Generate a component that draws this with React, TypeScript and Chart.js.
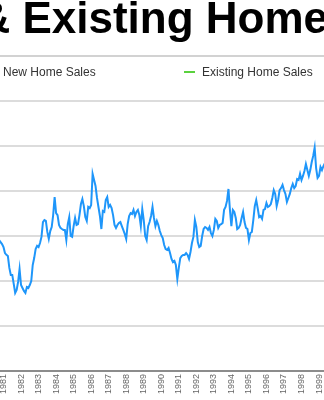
import React, { useEffect, useRef } from "react";
import { Chart, registerables } from "chart.js";

Chart.register(...registerables);

// ---- data ----
const chartTitle = "New & Existing Home Sales";
const seriesNames = ["New Home Sales", "Existing Home Sales"];
// monthly new home sales (thousands, SAAR), starting July 1980
const START_YEAR = 1980;
const START_MONTH = 7;
const newHomeSales = [
  570, 585, 580, 582, 573, 564,
  551, 524, 516, 511, 458, 427, 427, 387, 347, 360, 396, 453,
  382, 369, 356, 347, 373, 369, 382, 400, 471, 502, 542, 556,
  551, 569, 596, 662, 671, 667, 618, 587, 622, 640, 693, 773,
  702, 693, 649, 636, 631, 627, 627, 582, 653, 684, 600, 596,
  644, 680, 649, 653, 693, 742, 764, 733, 684, 667, 729, 724,
  738, 876, 849, 822, 769, 729, 689, 631, 711, 707, 760, 773,
  729, 738, 724, 693, 649, 636, 649, 658, 662, 644, 627, 609,
  587, 653, 689, 702, 698, 716, 689, 707, 716, 693, 644, 720,
  671, 600, 582, 644, 662, 689, 729, 680, 644, 667, 649, 622,
  604, 591, 560, 542, 538, 547, 524, 498, 484, 489, 471, 409,
  458, 502, 511, 516, 516, 524, 516, 498, 529, 569, 596, 671,
  640, 573, 551, 556, 600, 631, 640, 636, 627, 640, 613, 600,
  627, 676, 667, 636, 649, 653, 658, 716, 729, 756, 809, 716,
  644, 716, 707, 680, 631, 636, 649, 680, 707, 662, 636, 631,
  582, 613, 618, 671, 733, 760, 724, 684, 689, 676, 716, 720,
  747, 729, 733, 742, 769, 804, 787, 733, 760, 804, 813, 827,
  804, 787, 751, 769, 787, 813, 831, 813, 822, 853, 849, 876,
  849, 867, 889, 920, 893, 867, 893, 929, 956, 993, 902, 858,
  867, 907, 893, 911, 924,
];
// no existing-home-sales observations fall inside this span
const existingHomeSales: { x: number; y: number }[] = [];
const yearLabels = [
  1980, 1981, 1982, 1983, 1984, 1985, 1986, 1987, 1988, 1989, 1990,
  1991, 1992, 1993, 1994, 1995, 1996, 1997, 1998, 1999, 2000,
];
const yTicks = [0, 200, 400, 600, 800, 1000, 1200];

const FONT = "'Liberation Sans', Arial, Helvetica, sans-serif";

const headerPlugin = {
  id: "headerDecor",
  afterDraw(chart: any) {
    const ctx = chart.ctx as CanvasRenderingContext2D;
    ctx.save();
    ctx.strokeStyle = "#d2d2d2";
    ctx.lineWidth = 2;
    ctx.beginPath();
    ctx.moveTo(0, 56);
    ctx.lineTo(chart.width, 56);
    ctx.stroke();
    ctx.font = "12px " + FONT;
    ctx.textBaseline = "middle";
    ctx.textAlign = "left";
    chart.data.datasets.forEach((ds: any, i: number) => {
      const x = 110 + i * 199;
      ctx.strokeStyle = ds.borderColor;
      ctx.lineWidth = 2;
      ctx.beginPath();
      ctx.moveTo(x, 72);
      ctx.lineTo(x + 11, 72);
      ctx.stroke();
      ctx.fillStyle = "#333";
      ctx.fillText(ds.label, x + 18, 72.5);
    });
    ctx.restore();
  },
};

export default function App() {
  const ref = useRef<HTMLCanvasElement>(null);
  useEffect(() => {
    if (!ref.current) return;
    Chart.defaults.font.family = FONT;
    const points = newHomeSales.map((v, i) => ({
      x: START_YEAR + (START_MONTH - 1 + i) / 12,
      y: v,
    }));
    const chart = new Chart(ref.current, {
      type: "line",
      data: {
        datasets: [
          {
            label: seriesNames[0],
            data: points,
            borderColor: "#1e96fa",
            backgroundColor: "#1e96fa",
            borderWidth: 2,
            pointRadius: 0,
            tension: 0,
            fill: false,
          },
          {
            label: seriesNames[1],
            data: existingHomeSales,
            borderColor: "#5ad13e",
            backgroundColor: "#5ad13e",
            borderWidth: 2,
            pointRadius: 0,
            fill: false,
          },
        ],
      },
      options: {
        animation: false,
        responsive: false,
        layout: { padding: { left: 0, top: 0, bottom: 0, right: 19 } },
        plugins: {
          legend: { display: false },
          tooltip: { enabled: false },
          title: {
            display: true,
            text: chartTitle,
            color: "#000",
            font: { size: 44, weight: "bold", lineHeight: 0.95, family: FONT },
            padding: { top: 0, bottom: 59.2 },
          },
        },
        scales: {
          x: {
            type: "linear",
            min: 1977.0924,
            max: 2006.8129,
            afterBuildTicks: (s: any) => {
              s.ticks = yearLabels.map((v) => ({ value: v }));
            },
            afterFit: (s: any) => {
              s.height = 29;
            },
            ticks: {
              autoSkip: false,
              minRotation: 90,
              maxRotation: 90,
              padding: 3,
              color: "#666",
              font: { size: 9, family: FONT },
              callback: (v: any) => String(v),
            },
            grid: { display: false, drawTicks: false },
            border: { display: true, color: "#8c8c8c", width: 2 },
          },
          y: {
            min: 0,
            max: 1200,
            afterBuildTicks: (s: any) => {
              s.ticks = yTicks.map((v) => ({ value: v }));
            },
            afterFit: (s: any) => {
              s.width = 60;
            },
            ticks: { color: "#666", font: { size: 10, family: FONT } },
            grid: { color: "#dcdcdc", lineWidth: 2, drawTicks: false },
            border: { display: false },
          },
        },
      },
      plugins: [headerPlugin],
    } as any);
    return () => chart.destroy();
  }, []);

  return (
    <div
      style={{
        position: "fixed",
        left: 0,
        top: 0,
        width: 324,
        height: 400,
        overflow: "hidden",
        background: "#fff",
      }}
    >
      <div style={{ position: "absolute", left: -125, top: 0, width: 600, height: 400 }}>
        <canvas ref={ref} width={600} height={400} style={{ display: "block" }} />
      </div>
    </div>
  );
}
